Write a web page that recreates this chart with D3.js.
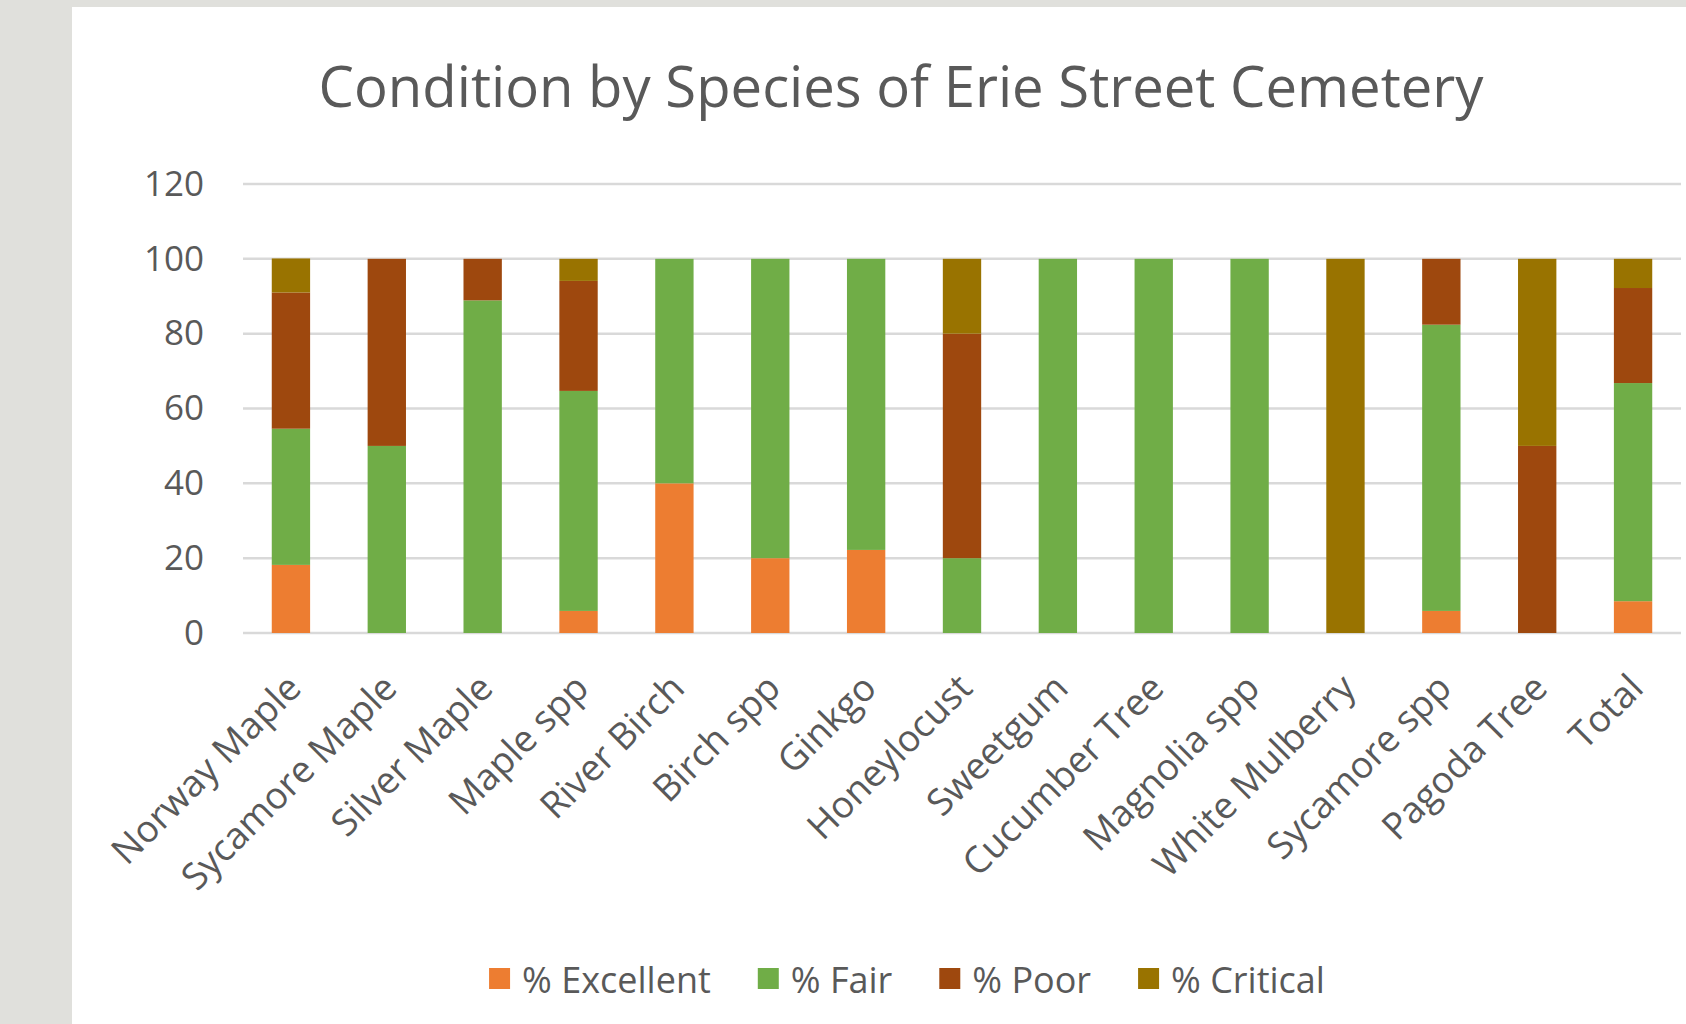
<!DOCTYPE html>
<html>
<head>
<meta charset="utf-8">
<script src="https://cdn.jsdelivr.net/npm/d3@7"></script>
<style>
  html, body { margin: 0; padding: 0; background: #e0e0dc; }
  svg { display: block; }
  text { font-family: "Open Sans", "Noto Sans", sans-serif; fill: #595959; }
</style>
</head>
<body>
<svg id="chart" width="1686" height="1024"></svg>
<script>
const categories = ["Norway Maple", "Sycamore Maple", "Silver Maple", "Maple spp", "River Birch",
  "Birch spp", "Ginkgo", "Honeylocust", "Sweetgum", "Cucumber Tree", "Magnolia spp",
  "White Mulberry", "Sycamore spp", "Pagoda Tree", "Total"];
const seriesNames = ["% Excellent", "% Fair", "% Poor", "% Critical"];
const excellent = [18.2, 0, 0, 5.9, 40, 20, 22.2, 0, 0, 0, 0, 0, 5.9, 0, 8.5];
const fair      = [36.4, 50, 88.9, 58.8, 60, 80, 77.8, 20, 100, 100, 100, 0, 76.5, 0, 58.3];
const poor      = [36.4, 50, 11.1, 29.4, 0, 0, 0, 60, 0, 0, 0, 0, 17.6, 50, 25.4];
const critical  = [9.1, 0, 0, 5.9, 0, 0, 0, 20, 0, 0, 0, 100, 0, 50, 7.8];
const colors = ["#ED7D31", "#70AD47", "#9E480E", "#997300"];
const yTicks = [0, 20, 40, 60, 80, 100, 120];
const title = "Condition by Species of Erie Street Cemetery";

(function () {
const svg = d3.select("#chart");
// white chart panel
svg.append("rect").attr("x", 72).attr("y", 7).attr("width", 1614).attr("height", 1017).attr("fill", "#ffffff");

const pLeft = 243, pRight = 1681, pTop = 184, pBottom = 633;
const x = d3.scaleBand().domain(categories).range([pLeft, pRight]).paddingInner(0.6).paddingOuter(0.3);
const y = d3.scaleLinear().domain([0, 120]).range([pBottom, pTop]);

// gridlines
svg.append("g").selectAll("line").data(yTicks).join("line")
  .attr("x1", pLeft).attr("x2", pRight)
  .attr("y1", d => y(d)).attr("y2", d => y(d))
  .attr("stroke", "#d9d9d9").attr("stroke-width", 2.5);

// y axis labels
const yAxis = d3.axisLeft(y).tickValues(yTicks).tickSize(0).tickPadding(0);
const yg = svg.append("g").attr("transform", `translate(${204},0)`).call(yAxis);
yg.select(".domain").remove();
yg.selectAll("text").attr("font-size", 35).attr("fill", "#595959")
  .style("font-family", '"Open Sans", sans-serif');

// stacked data
const rows = categories.map((c, i) => ({cat: c, e: excellent[i], f: fair[i], p: poor[i], c2: critical[i]}));
const stack = d3.stack().keys(["e", "f", "p", "c2"]);
const stacked = stack(rows);

svg.append("g").selectAll("g").data(stacked).join("g")
  .attr("fill", (d, i) => colors[i])
  .selectAll("rect").data(d => d).join("rect")
  .attr("x", d => x(d.data.cat))
  .attr("width", x.bandwidth())
  .attr("y", d => y(d[1]))
  .attr("height", d => Math.max(0, y(d[0]) - y(d[1])));

// x axis labels
const xAxis = d3.axisBottom(x).tickSize(0).tickPadding(0);
const xg = svg.append("g").attr("transform", `translate(0,${pBottom})`).call(xAxis);
xg.select(".domain").remove();
xg.selectAll(".tick text")
  .attr("font-size", 37)
  .attr("fill", "#595959")
  .style("font-family", '"Open Sans", sans-serif')
  .attr("text-anchor", "end")
  .attr("dy", null)
  .attr("y", 0)
  .attr("transform", "translate(2,47) rotate(-45)")
  .attr("dominant-baseline", "central");

// title
const t = svg.append("text").attr("x", 901).attr("y", 107).attr("text-anchor", "middle")
  .attr("font-size", 52).text(title);
const tw = t.node().getComputedTextLength();
t.attr("font-size", 52 * 1165 / tw);

// legend
const lg = svg.append("g");
let cx = 0;
seriesNames.forEach((name, i) => {
  const g = lg.append("g").attr("transform", `translate(${cx},0)`);
  g.append("rect").attr("x", 0).attr("y", -11).attr("width", 21).attr("height", 21).attr("fill", colors[i]);
  const tx = g.append("text").attr("x", 33).attr("y", 0).attr("dominant-baseline", "central")
    .attr("font-size", 36).text(name);
  const w = tx.node().getComputedTextLength();
  cx += 33 + w + 47;
});
const totalW = cx - 47;
lg.attr("transform", `translate(${907 - totalW / 2},979)`);
})();
</script>
</body>
</html>
